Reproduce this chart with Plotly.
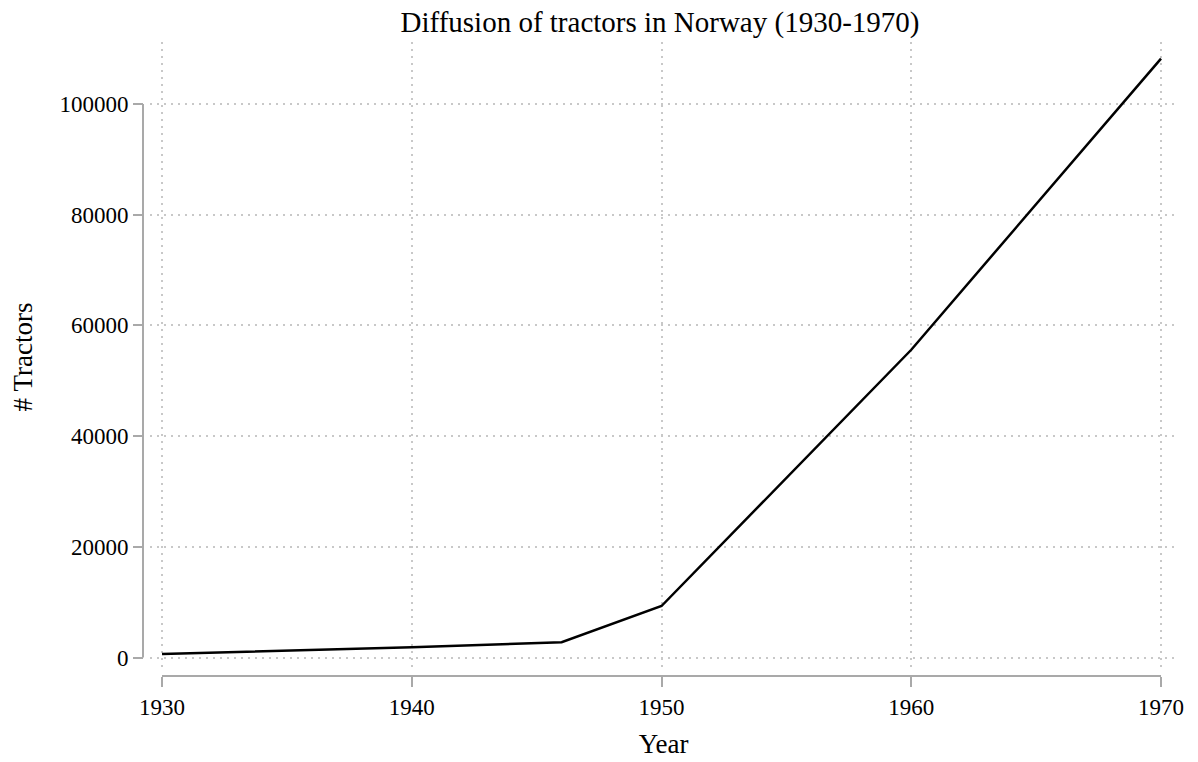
import plotly.graph_objects as go

years = [1930, 1940, 1946, 1950, 1960, 1970]
tractors = [630, 1850, 2750, 9300, 55600, 108200]

x_ticks = [1930, 1940, 1950, 1960, 1970]
y_ticks = [0, 20000, 40000, 60000, 80000, 100000]

axis_gray = "#a9a9a9"
grid_gray = "#c8c8c8"
serif = "Liberation Serif, Times New Roman, serif"

fig = go.Figure(go.Scatter(
    x=years, y=tractors, mode="lines",
    line=dict(color="black", width=2.5),
    hoverinfo="x+y",
))

# Stata-style axes: lines detached from the plot region, spanning only the tick range
fig.add_shape(type="line", xref="paper", yref="y", x0=0, x1=0,
              y0=y_ticks[0], y1=y_ticks[-1], line=dict(color=axis_gray, width=2))
fig.add_shape(type="line", xref="x", yref="paper", x0=x_ticks[0], x1=x_ticks[-1],
              y0=0, y1=0, line=dict(color=axis_gray, width=2))

# note: the page body adds an 8px offset, margins compensate for it
fig.update_layout(
    width=1198, height=762,
    paper_bgcolor="white", plot_bgcolor="white",
    margin=dict(l=135, r=29, t=34, b=94),
    showlegend=False,
    font=dict(family=serif, color="black"),
    title=dict(text="Diffusion of tractors in Norway (1930-1970)",
               x=0.5, xanchor="center", xref="paper", y=0.982, yanchor="middle",
               font=dict(size=29, family=serif, color="black")),
    xaxis=dict(
        domain=[0.0068, 1], anchor="free", position=0, automargin=False,
        range=[1929.52, 1970.64],
        tickvals=x_ticks, tickformat="d",
        ticks="outside", ticklen=10, tickwidth=2, tickcolor=axis_gray,
        tickfont=dict(size=23, family=serif, color="black"),
        showline=False, zeroline=False,
        showgrid=True, gridcolor=grid_gray, gridwidth=1.5, griddash="2px,5px",
        title=dict(text="Year", font=dict(size=27, family=serif, color="black"), standoff=15),
    ),
    yaxis=dict(
        domain=[0.0063, 1], anchor="free", position=0, automargin=False,
        range=[-2620, 111200],
        tickvals=y_ticks, tickformat="d",
        ticks="outside", ticklen=10, tickwidth=2, tickcolor=axis_gray,
        tickfont=dict(size=23, family=serif, color="black"),
        showline=False, zeroline=False,
        showgrid=True, gridcolor=grid_gray, gridwidth=1.5, griddash="2px,5px",
        title=dict(text="# Tractors", font=dict(size=27, family=serif, color="black"), standoff=18),
    ),
)

fig.write_html("out.html")
